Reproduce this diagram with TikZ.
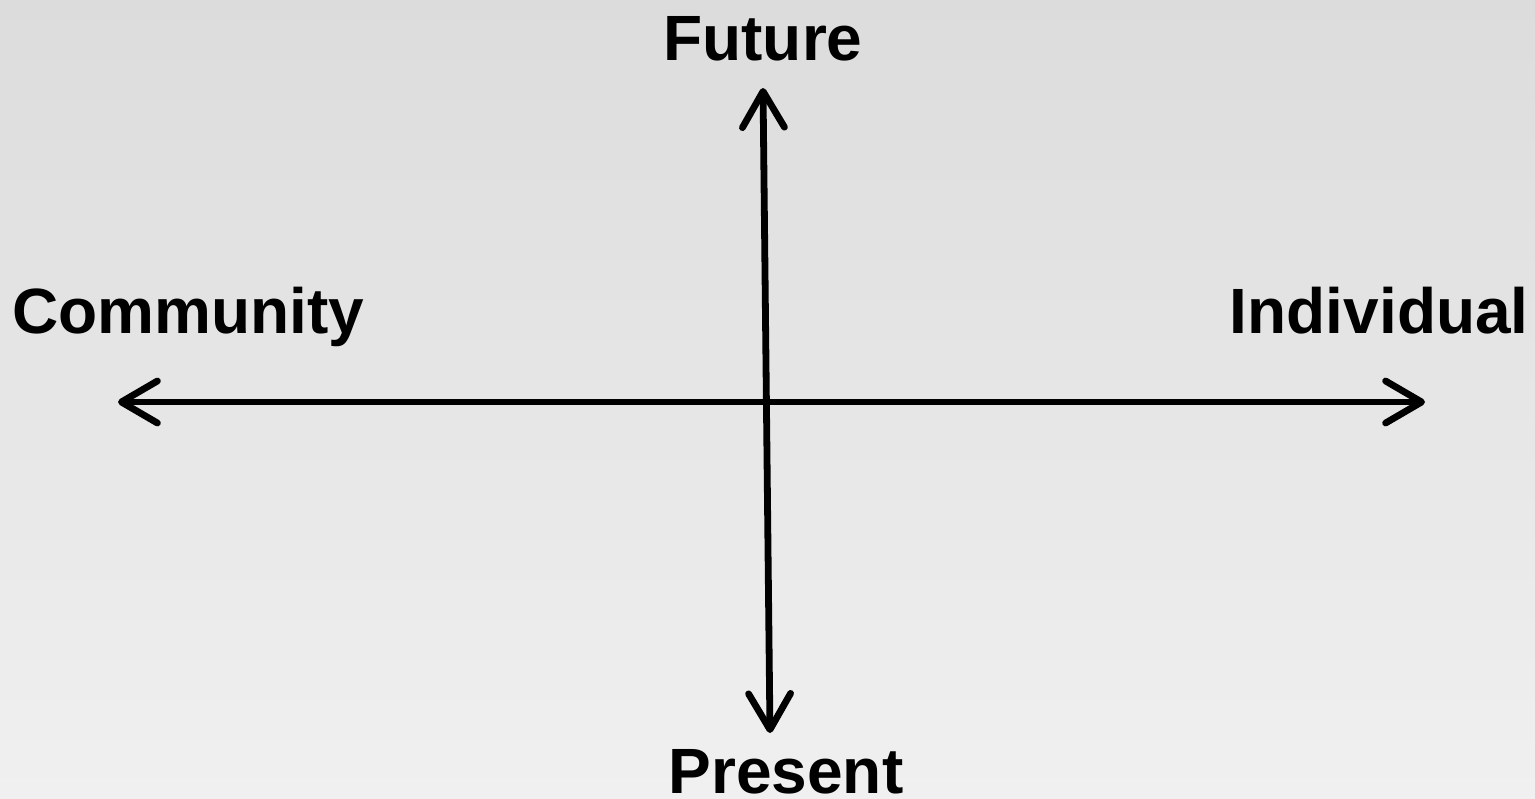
\documentclass[tikz,border=0pt]{standalone}
\usepackage{fontspec}
\setmainfont{Liberation Sans}
\usetikzlibrary{arrows.meta}
\definecolor{bgtop}{RGB}{220,220,220}
\definecolor{bgbottom}{RGB}{240,240,240}

\begin{document}
\begin{tikzpicture}[
            x=0.5pt, y=-0.5pt,
            barb/.tip={Straight Barb[length=18pt, width=21pt, round]},
            axis/.style={line width=3.4pt, barb-barb},
            pole/.style={font=\fontsize{32}{38}\selectfont\bfseries, inner sep=0pt, anchor=base}
        ]
        \shade[top color=bgtop, bottom color=bgbottom] (0,0) rectangle (1535,798);
        \useasboundingbox (0,0) rectangle (1535,798);
        \node[pole] (future) at (763,60) {Future};
        \node[pole] (present) at (786,793) {Present};
        \node[pole, anchor=base west] (community) at (12,333) {Community};
        \node[pole, anchor=base east] (individual) at (1529,333) {Individual};
        \coordinate (top) at (763,88);
        \coordinate (bottom) at (770,733);
        \coordinate (west) at (118,402);
        \coordinate (east) at (1425,402);
        \draw[axis] (west) -- (east);
        \draw[axis] (bottom) -- (top);
    \end{tikzpicture}
\end{document}
